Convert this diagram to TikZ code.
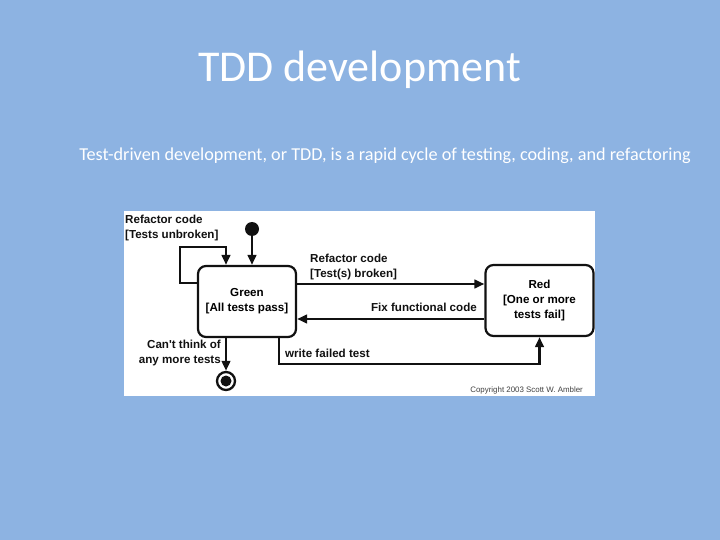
\documentclass[tikz,border=0pt]{standalone}
\usepackage{fontspec}
\setmainfont{Carlito}
\newfontfamily\uml{Liberation Sans}
\usetikzlibrary{arrows.meta,positioning}
\definecolor{slide}{HTML}{8DB3E2}
\definecolor{ink}{HTML}{111111}

\begin{document}
\begin{tikzpicture}[
  x=1pt,y=-1pt,
  state/.style={draw=ink,line width=2.2pt,rounded corners=8pt,fill=white,minimum height=71pt,align=center,inner sep=0pt,
    font=\uml\bfseries\fontsize{11.6}{15}\selectfont},
  note/.style={inner sep=0pt,text=ink,font=\uml\bfseries\fontsize{11.6}{15}\selectfont},
  flow/.style={-{Triangle[length=10pt,width=8.5pt]},line width=2.7pt,draw=ink}
]
\fill[slide] (0,0) rectangle (720,540);
\useasboundingbox (0,0) rectangle (720,540);
% headings
\node[anchor=base,text=white,font=\fontsize{44}{50}\selectfont] (title) at (359.5,82) {TDD development};
\node[anchor=base,text=white,font=\fontsize{18.2}{22}\selectfont] (lead) at (385,161)
  {Test-driven development, or TDD, is a rapid cycle of testing, coding, and refactoring};
% diagram panel
\fill[white] (124,211) rectangle (595,396);
\node[state,minimum width=98pt] (green) at (247,301.5) {Green\\{[All tests pass]}};
\node[state,minimum width=108pt] (red) at (539.5,300.5) {Red\\{[One or more}\\tests fail]};
\node[circle,fill=ink,minimum size=14pt,inner sep=0pt] (init) at (252,229) {};
\node[circle,draw=ink,line width=2.3pt,minimum size=18pt,inner sep=0pt,
  path picture={\fill[ink] (path picture bounding box.center) circle (5.5pt);}] (final) at (226,381) {};
\coordinate (loop) at (180,247);
% transitions
\draw[flow] (init) -- (252,0 |- green.north);
\draw[flow] (green.west |- 0,283) -| (loop) -| (226,0 |- green.north);
\draw[flow] (green.east |- 0,284) -- (red.west |- 0,284);
\draw[flow] (red.west |- 0,319) -- (green.east |- 0,319);
\draw[flow] (279,0 |- green.south) |- (red.south |- 0,364) -- (red.south);
\draw[flow] (226,0 |- green.south) -- (final);
% labels
\node[note,anchor=north west,align=left] (keep) at (125,215) {Refactor code\\{[Tests unbroken]}};
\node[note,anchor=north west,align=left] (break) at (310,254) {Refactor code\\{[Test(s) broken]}};
\node[note,anchor=north east] (fix) at (477,303) {Fix functional code};
\node[note,anchor=north east,align=right] (stop) at (221,340) {Can't think of\\any more tests};
\node[note,anchor=north west] (write) at (285,349) {write failed test};
\node[anchor=base east,inner sep=0pt,text=ink!80,font=\uml\fontsize{7.9}{9}\selectfont] (credit) at (583,392)
  {Copyright 2003 Scott W. Ambler};
\end{tikzpicture}
\end{document}
